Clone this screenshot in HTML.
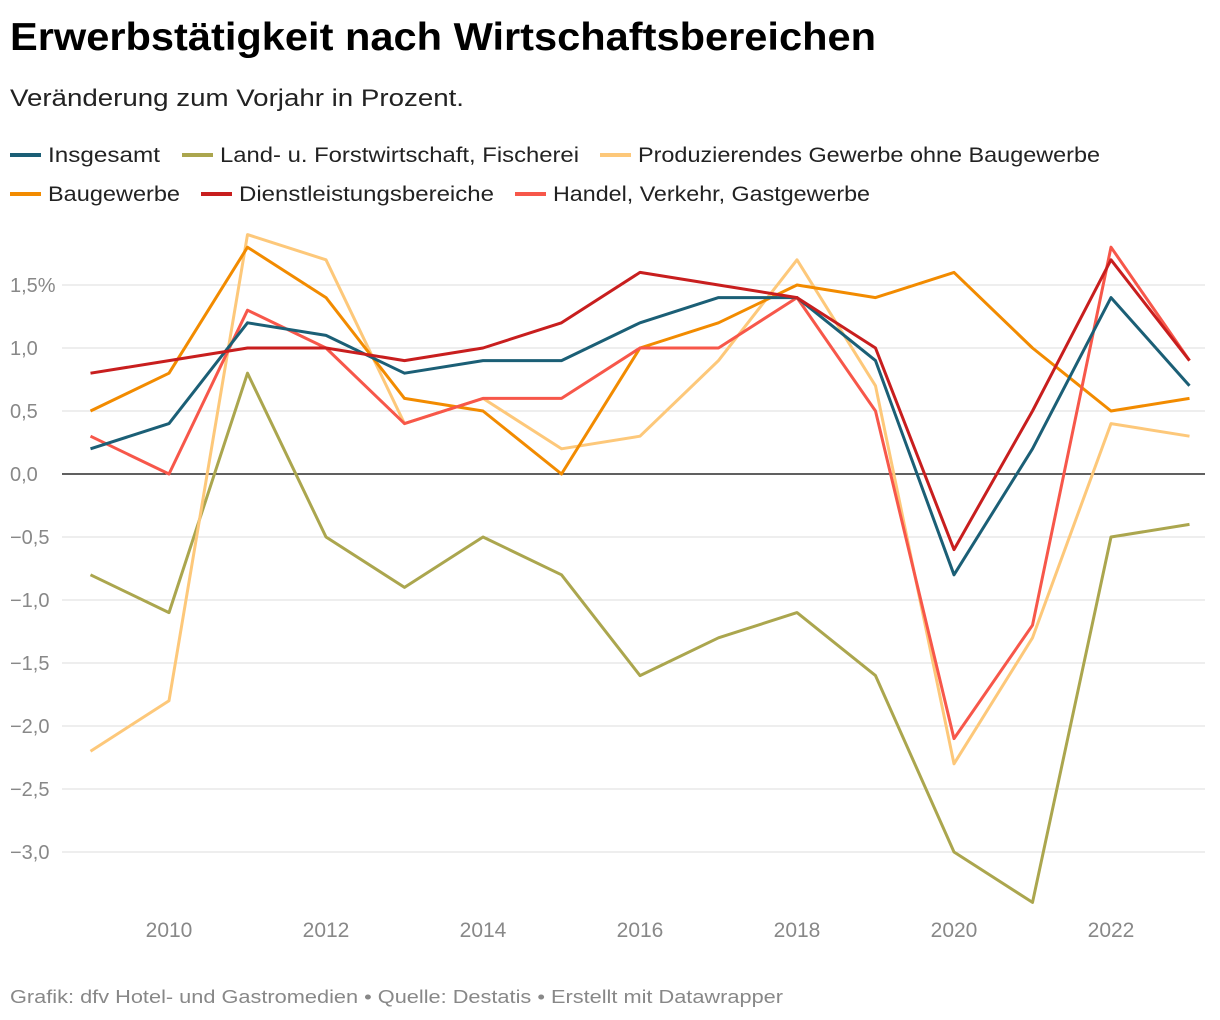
<!DOCTYPE html>
<html><head><meta charset="utf-8"><style>
body{margin:0;width:1220px;height:1020px;background:#fff;font-family:"Liberation Sans",sans-serif;overflow:hidden}
</style></head><body>
<svg width="1220" height="1020" style="position:absolute;left:0;top:0">
<text x="10" y="50" font-size="39" font-weight="bold" fill="#000" textLength="866" lengthAdjust="spacingAndGlyphs">Erwerbstätigkeit nach Wirtschaftsbereichen</text>
<text x="10" y="106" font-size="24" fill="#222" textLength="454" lengthAdjust="spacingAndGlyphs">Veränderung zum Vorjahr in Prozent.</text>
<g id="legend" font-size="21" fill="#222"></g>
<g id="grid"></g>
<g id="lines"></g>
<text x="10" y="1003" font-size="18" fill="#888" textLength="773" lengthAdjust="spacingAndGlyphs">Grafik: dfv Hotel- und Gastromedien • Quelle: Destatis • Erstellt mit Datawrapper</text>
</svg>
<script>
const years=[2009,2010,2011,2012,2013,2014,2015,2016,2017,2018,2019,2020,2021,2022,2023];
const insgesamt=[0.2,0.4,1.2,1.1,0.8,0.9,0.9,1.2,1.4,1.4,0.9,-0.8,0.2,1.4,0.7];
const land=[-0.8,-1.1,0.8,-0.5,-0.9,-0.5,-0.8,-1.6,-1.3,-1.1,-1.6,-3.0,-3.4,-0.5,-0.4];
const produzierend=[-2.2,-1.8,1.9,1.7,0.4,0.6,0.2,0.3,0.9,1.7,0.7,-2.3,-1.3,0.4,0.3];
const bau=[0.5,0.8,1.8,1.4,0.6,0.5,0.0,1.0,1.2,1.5,1.4,1.6,1.0,0.5,0.6];
const dienst=[0.8,0.9,1.0,1.0,0.9,1.0,1.2,1.6,1.5,1.4,1.0,-0.6,0.5,1.7,0.9];
const handel=[0.3,0.0,1.3,1.0,0.4,0.6,0.6,1.0,1.0,1.4,0.5,-2.1,-1.2,1.8,0.9];
const yTicks=[1.5,1.0,0.5,0,-0.5,-1.0,-1.5,-2.0,-2.5,-3.0];
const yTickLabels=["1,5%","1,0","0,5","0,0","−0,5","−1,0","−1,5","−2,0","−2,5","−3,0"];
const xTicks=[2010,2012,2014,2016,2018,2020,2022];
const seriesNames=["Insgesamt","Land- u. Forstwirtschaft, Fischerei","Produzierendes Gewerbe ohne Baugewerbe","Baugewerbe","Dienstleistungsbereiche","Handel, Verkehr, Gastgewerbe"];
const seriesData=[insgesamt,land,produzierend,bau,dienst,handel];
const colors=["#1b5f76","#aba64e","#fdc87a","#f28b00","#c81e1e","#f7574a"];
const X=y=>90.5+(y-2009)*78.5;
const Y=v=>474-v*126;
const NS="http://www.w3.org/2000/svg";
function mk(t,a,p){const e=document.createElementNS(NS,t);for(const k in a)e.setAttribute(k,a[k]);p.appendChild(e);return e;}
const grid=document.getElementById('grid');
yTicks.forEach((v,i)=>{
 const l=mk('line',{x1:62,x2:1205,y1:Y(v),y2:Y(v),stroke:v===0?'#000':'#ddd','stroke-width':v===0?1.3:1},grid);
 
 
 const t=mk('text',{x:10,y:Y(v)+7,'font-size':20,fill:'#888'},grid);
 t.textContent=yTickLabels[i];
 
 
});
xTicks.forEach(y=>{
 const t=mk('text',{x:X(y),y:937,'font-size':21,fill:'#888','text-anchor':'middle'},grid);
 t.textContent=y;
 
 
});
const lines=document.getElementById('lines');
const order=[1,2,3,5,0,4];
order.forEach(i=>{
 const d=seriesData[i].map((v,j)=>(j?'L':'M')+X(years[j]).toFixed(1)+','+Y(v).toFixed(1)).join('');
 const p=mk('path',{d:d,fill:'none',stroke:colors[i],'stroke-width':3,'stroke-linejoin':'round'},lines);
 
 
});
const legend=document.getElementById('legend');
const lpos=[[10,162,112],[182,162,359],[600,162,462],[10,201,132],[201,201,255],[515,201,317]];
seriesNames.forEach((n,i)=>{
 const g=mk('g',{},legend);
 
 
 mk('line',{x1:lpos[i][0],x2:lpos[i][0]+31,y1:lpos[i][1]-7,y2:lpos[i][1]-7,stroke:colors[i],'stroke-width':4},g);
 const t=mk('text',{x:lpos[i][0]+38,y:lpos[i][1],textLength:lpos[i][2],lengthAdjust:'spacingAndGlyphs'},g);
 t.textContent=n;
});
</script>
</body></html>
